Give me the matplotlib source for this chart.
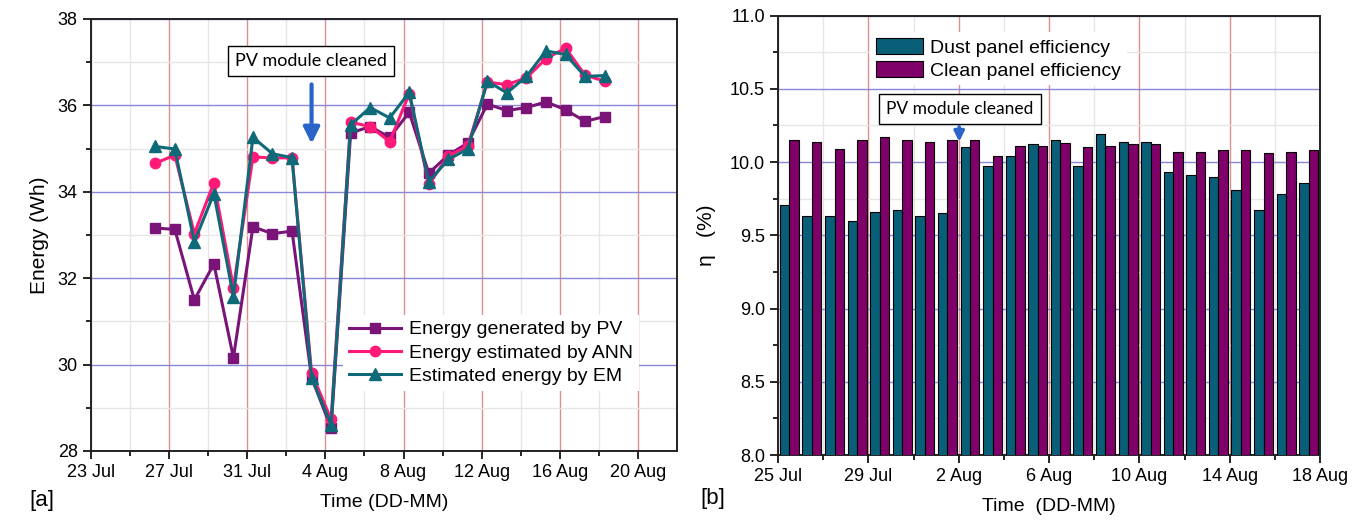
import pandas as pd
import matplotlib.pyplot as plt
import matplotlib.dates as mdates
from matplotlib.ticker import MultipleLocator, FormatStrFormatter, FixedLocator

plt.rcParams["font.family"] = ["Liberation Sans", "DejaVu Sans"]

# daily energy readings (Wh), 26 Jul - 18 Aug
energy_days = pd.date_range("2019-07-26 07:00", periods=24, freq="D")
energy_pv = [33.16, 33.13, 31.50, 32.33, 30.16, 33.19, 33.03, 33.09, 29.70, 28.53,
             35.36, 35.51, 35.26, 35.84, 34.43, 34.85, 35.13, 36.03, 35.88, 35.95,
             36.08, 35.90, 35.63, 35.74]
energy_ann = [34.66, 34.85, 33.03, 34.21, 31.78, 34.81, 34.78, 34.79, 29.81, 28.73,
              35.61, 35.51, 35.16, 36.27, 34.17, 34.83, 35.06, 36.54, 36.48, 36.64,
              37.08, 37.33, 36.70, 36.56]
energy_em = [35.05, 34.99, 32.84, 33.96, 31.57, 35.26, 34.88, 34.79, 29.70, 28.61,
             35.55, 35.95, 35.71, 36.30, 34.23, 34.75, 34.99, 36.56, 36.29, 36.67,
             37.26, 37.18, 36.67, 36.69]

# daily panel efficiency (%), 25 Jul - 17 Aug
eff_days = pd.date_range("2019-07-25 12:00", periods=24, freq="D")
eff_dust = [9.71, 9.63, 9.63, 9.60, 9.66, 9.67, 9.63, 9.65, 10.10, 9.97,
            10.04, 10.12, 10.15, 9.97, 10.19, 10.14, 10.14, 9.93, 9.91, 9.90,
            9.81, 9.67, 9.78, 9.86]
eff_clean = [10.15, 10.14, 10.09, 10.15, 10.17, 10.15, 10.14, 10.15, 10.15, 10.04,
             10.11, 10.11, 10.13, 10.10, 10.11, 10.12, 10.12, 10.07, 10.07, 10.08,
             10.08, 10.06, 10.07, 10.08]

pv_color = "#7a1478"
ann_color = "#ff1a78"
em_color = "#0e6a78"
dust_color = "#0a5f78"
clean_color = "#7e0068"
arrow_color = "#2a64c8"
box_font = ["Lato", "DejaVu Sans"]

fig = plt.figure(figsize=(13.6, 5.2), dpi=100)
ax1 = fig.add_axes([0.0669, 0.1327, 0.4309, 0.8308])
ax2 = fig.add_axes([0.5721, 0.125, 0.3985, 0.845])


def style_axes(ax):
    ax.set_axisbelow(True)
    ax.grid(which="major", axis="y", color="#8888d8", lw=1.0)
    ax.grid(which="major", axis="x", color="#d89090", lw=1.0)
    ax.grid(which="minor", color="#e6e6e6", lw=1.0)
    ax.tick_params(which="major", direction="out", length=6, width=1.2, labelsize=13,
                   top=False, right=False)
    ax.tick_params(which="minor", direction="out", length=3.5, width=1.2,
                   top=False, right=False)
    for side in ["left", "bottom", "top", "right"]:
        ax.spines[side].set_linewidth(1.4)
        ax.spines[side].set_color("#222222")
    ax.xaxis.set_major_formatter(mdates.DateFormatter("%-d %b"))


# [a] energy lines
ax1.plot(energy_days, energy_pv, color=pv_color, lw=2.2, marker="s", ms=7,
         label="Energy generated by PV", zorder=3)
ax1.plot(energy_days, energy_ann, color=ann_color, lw=2.2, marker="o", ms=7.5,
         label="Energy estimated by ANN", zorder=4)
ax1.plot(energy_days, energy_em, color=em_color, lw=2.2, marker="^", ms=8.5,
         label="Estimated energy by EM", zorder=5)

ax1.set_xlim(pd.Timestamp("2019-07-23"), pd.Timestamp("2019-08-22"))
ax1.set_ylim(28, 38)
ax1.xaxis.set_major_locator(FixedLocator(mdates.date2num(
    pd.date_range("2019-07-23", "2019-08-20", freq="4D"))))
ax1.xaxis.set_minor_locator(FixedLocator(mdates.date2num(
    pd.date_range("2019-07-25", "2019-08-21", freq="4D"))))
ax1.yaxis.set_major_locator(MultipleLocator(2))
ax1.yaxis.set_minor_locator(MultipleLocator(1))
style_axes(ax1)
ax1.set_xlabel("Time (DD-MM)", fontsize=14, labelpad=9)
ax1.set_ylabel("Energy (Wh)", fontsize=15, labelpad=6)

leg1 = ax1.legend(loc="upper left", bbox_to_anchor=(0.43, 0.315), fontsize=14,
                  frameon=True, fancybox=False, edgecolor="none", facecolor="white",
                  framealpha=1, handlelength=2.7, handletextpad=0.4, labelspacing=0.3,
                  borderaxespad=0, borderpad=0.3)

ax1.text(pd.Timestamp("2019-08-03 06:00"), 37.03, "PV module cleaned", fontsize=13,
         family=box_font, ha="center", va="center", zorder=6,
         bbox=dict(boxstyle="square,pad=0.4", fc="white", ec="black", lw=1))
ax1.annotate("", xy=(pd.Timestamp("2019-08-03 07:00"), 35.05),
             xytext=(pd.Timestamp("2019-08-03 07:00"), 36.55),
             arrowprops=dict(arrowstyle="-|>,head_width=0.3,head_length=0.6",
                             color=arrow_color, lw=3, mutation_scale=16))

# [b] efficiency bars
eff_x = mdates.date2num(eff_days)
ax2.bar(eff_x - 0.21, eff_dust, width=0.42, color=dust_color, edgecolor="black",
        lw=0.8, label="Dust panel efficiency", zorder=3)
ax2.bar(eff_x + 0.21, eff_clean, width=0.42, color=clean_color, edgecolor="black",
        lw=0.8, label="Clean panel efficiency", zorder=3)

ax2.set_xlim(mdates.date2num(pd.Timestamp("2019-07-25")),
             mdates.date2num(pd.Timestamp("2019-08-18")))
ax2.set_ylim(8.0, 11.0)
ax2.xaxis.set_major_locator(FixedLocator(mdates.date2num(
    pd.date_range("2019-07-25", "2019-08-18", freq="4D"))))
ax2.xaxis.set_minor_locator(FixedLocator(mdates.date2num(
    pd.date_range("2019-07-27", "2019-08-17", freq="4D"))))
ax2.yaxis.set_major_locator(MultipleLocator(0.5))
ax2.yaxis.set_minor_locator(MultipleLocator(0.25))
ax2.yaxis.set_major_formatter(FormatStrFormatter("%.1f"))
style_axes(ax2)
ax2.set_xlabel("Time  (DD-MM)", fontsize=14, labelpad=9)
ax2.set_ylabel("η   (%)", fontsize=15, labelpad=10)

ax2.legend(loc="upper left", bbox_to_anchor=(0.17, 0.962), fontsize=14,
           frameon=True, fancybox=False, edgecolor="none", facecolor="white",
           framealpha=1, handlelength=2.4, handleheight=0.9, handletextpad=0.4,
           labelspacing=0.2, borderaxespad=0, borderpad=0.3)

ax2.text(mdates.date2num(pd.Timestamp("2019-08-02 01:30")), 10.36, "PV module cleaned",
         fontsize=12.5, family=box_font, ha="center", va="center", zorder=6,
         bbox=dict(boxstyle="square,pad=0.4", fc="white", ec="black", lw=1))
ax2.annotate("", xy=(mdates.date2num(pd.Timestamp("2019-08-02 00:30")), 10.12),
             xytext=(mdates.date2num(pd.Timestamp("2019-08-02 00:30")), 10.26),
             arrowprops=dict(arrowstyle="-|>,head_width=0.3,head_length=0.6",
                             color=arrow_color, lw=2.5, mutation_scale=10), zorder=7)

fig.text(0.031, 0.038, "[a]", fontsize=16, ha="center", va="center")
fig.text(0.524, 0.042, "[b]", fontsize=16, ha="center", va="center")

fig.savefig("out.png", dpi=100)
